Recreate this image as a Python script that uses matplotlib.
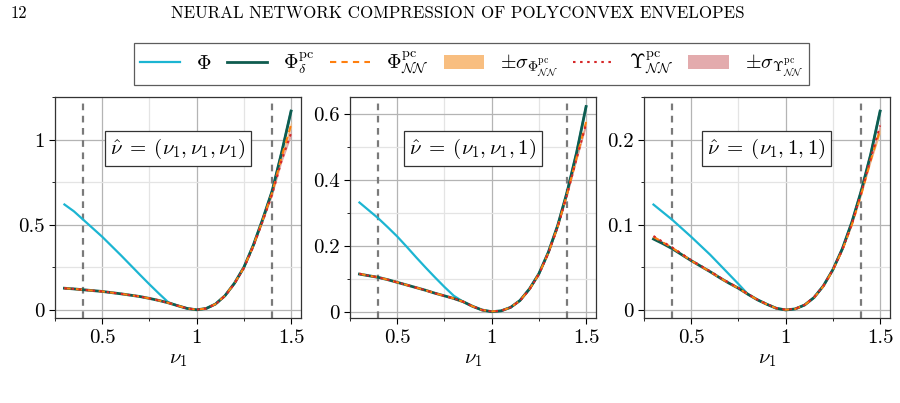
import numpy as np
import matplotlib
matplotlib.use("Agg")
import matplotlib.pyplot as plt
from matplotlib.ticker import MultipleLocator, FuncFormatter

plt.rcParams['mathtext.fontset'] = 'cm'
plt.rcParams['font.family'] = 'serif'
plt.rcParams['font.serif'] = ['cmr10', 'DejaVu Serif']
plt.rcParams['axes.formatter.use_mathtext'] = True

# --- data ---
nu1 = [0.30, 0.35, 0.40, 0.45, 0.50, 0.55, 0.60, 0.65, 0.70, 0.75, 0.80, 0.85, 0.90,
       0.95, 1.00, 1.05, 1.10, 1.15, 1.20, 1.25, 1.30, 1.35, 1.40, 1.45, 1.50]

# panel 1: nu_hat = (nu1, nu1, nu1)
phi_1 = [0.62, 0.58, 0.53, 0.48, 0.43, 0.375, 0.32, 0.263, 0.206, 0.15, 0.096, 0.044, 0.024,
         0.008, 0.0, 0.0075, 0.034, 0.083, 0.156, 0.25, 0.38, 0.534, 0.70, 0.926, 1.17]
env_1 = [0.127, 0.123, 0.118, 0.113, 0.108, 0.101, 0.094, 0.086, 0.078, 0.067, 0.055, 0.041, 0.024,
         0.008, 0.0, 0.0075, 0.034, 0.083, 0.156, 0.25, 0.38, 0.534, 0.70, 0.926, 1.17]
nn_1 = [0.127, 0.123, 0.118, 0.113, 0.108, 0.101, 0.094, 0.086, 0.078, 0.067, 0.055, 0.041, 0.024,
        0.008, 0.001, 0.0075, 0.034, 0.083, 0.155, 0.248, 0.377, 0.528, 0.69, 0.90, 1.09]
ups_1 = [0.127, 0.123, 0.118, 0.113, 0.108, 0.101, 0.094, 0.086, 0.078, 0.067, 0.055, 0.041, 0.024,
         0.008, 0.001, 0.0075, 0.033, 0.081, 0.153, 0.245, 0.372, 0.522, 0.68, 0.88, 1.04]

# panel 2: nu_hat = (nu1, nu1, 1)
phi_2 = [0.331, 0.307, 0.283, 0.256, 0.228, 0.197, 0.165, 0.134, 0.104, 0.075, 0.048, 0.030, 0.016,
         0.005, 0.0, 0.0025, 0.013, 0.034, 0.069, 0.115, 0.18, 0.262, 0.364, 0.483, 0.622]
env_2 = [0.114, 0.109, 0.104, 0.097, 0.089, 0.081, 0.073, 0.065, 0.056, 0.048, 0.040, 0.030, 0.016,
         0.005, 0.0, 0.0025, 0.013, 0.034, 0.069, 0.115, 0.18, 0.262, 0.364, 0.483, 0.622]
nn_2 = [0.115, 0.109, 0.104, 0.097, 0.089, 0.081, 0.073, 0.065, 0.056, 0.048, 0.040, 0.030, 0.016,
        0.005, 0.001, 0.0025, 0.013, 0.034, 0.068, 0.114, 0.178, 0.258, 0.358, 0.468, 0.575]
ups_2 = [0.115, 0.109, 0.104, 0.097, 0.089, 0.081, 0.073, 0.065, 0.056, 0.048, 0.040, 0.030, 0.016,
         0.005, 0.001, 0.0025, 0.013, 0.033, 0.067, 0.113, 0.177, 0.257, 0.356, 0.465, 0.57]

# panel 3: nu_hat = (nu1, 1, 1)
phi_3 = [0.124, 0.115, 0.106, 0.096, 0.086, 0.0755, 0.065, 0.0535, 0.042, 0.0305, 0.0185, 0.012, 0.0067,
         0.002, 0.0, 0.0012, 0.0058, 0.0146, 0.0285, 0.0475, 0.072, 0.103, 0.14, 0.183, 0.234]
env_3 = [0.0835, 0.078, 0.072, 0.065, 0.058, 0.0515, 0.045, 0.038, 0.0315, 0.0255, 0.0185, 0.012, 0.0067,
         0.002, 0.0, 0.0012, 0.0058, 0.0146, 0.0285, 0.0475, 0.072, 0.103, 0.14, 0.183, 0.234]
nn_3 = [0.086, 0.0795, 0.073, 0.0655, 0.058, 0.0515, 0.045, 0.038, 0.0315, 0.0255, 0.0185, 0.012, 0.0067,
        0.002, 0.0003, 0.0012, 0.0058, 0.0145, 0.028, 0.047, 0.0705, 0.10, 0.136, 0.176, 0.212]
ups_3 = [0.087, 0.080, 0.0735, 0.066, 0.0585, 0.052, 0.0455, 0.0385, 0.032, 0.026, 0.0188, 0.0122, 0.007,
         0.0022, 0.0004, 0.0013, 0.006, 0.015, 0.0285, 0.0475, 0.071, 0.101, 0.138, 0.178, 0.217]

# standard deviations (small, grow toward the ends)
sig_nn = [0.006, 0.004, 0.003, 0.002, 0.002, 0.002, 0.002, 0.002, 0.002, 0.002, 0.002, 0.002, 0.002,
          0.002, 0.002, 0.002, 0.002, 0.002, 0.003, 0.004, 0.005, 0.007, 0.010, 0.015, 0.022]
sig_ups = [0.005, 0.004, 0.003, 0.002, 0.002, 0.002, 0.002, 0.002, 0.002, 0.002, 0.002, 0.002, 0.002,
           0.002, 0.002, 0.002, 0.002, 0.002, 0.003, 0.004, 0.005, 0.007, 0.010, 0.014, 0.020]

panel_labels = [r'$\hat{\nu}\;=\;(\nu_1, \nu_1, \nu_1)$',
                r'$\hat{\nu}\;=\;(\nu_1, \nu_1, 1)$',
                r'$\hat{\nu}\;=\;(\nu_1, 1, 1)$']
panels = [(phi_1, env_1, nn_1, ups_1), (phi_2, env_2, nn_2, ups_2), (phi_3, env_3, nn_3, ups_3)]
ylims = [(-0.05, 1.255), (-0.02, 0.652), (-0.0098, 0.251)]
ymajor = [0.5, 0.2, 0.1]
bounds = [0.4, 1.4]

c_phi = '#1cb5d2'
c_env = '#0f5c4f'
c_nn = '#ff7f0e'
c_nn_band = '#f8be80'
c_ups = '#d62728'
c_ups_band = '#dc9699'

fig = plt.figure(figsize=(9, 4.03), dpi=100)
lefts = [0.0611, 0.3889, 0.7156]
x = np.array(nu1)
scale_fac = [1.0, 0.5, 0.2]
for i, (ph, en, nn, up) in enumerate(panels):
    ax = fig.add_axes([lefts[i], 0.2102, 0.2728, 0.55])
    nn = np.array(nn)
    up = np.array(up)
    sn = np.array(sig_nn) * scale_fac[i]
    su = np.array(sig_ups) * scale_fac[i]
    for b in bounds:
        ax.axvline(b, color='#7a7a7a', ls=(0, (3, 2.5)), lw=1.6, zorder=1)
    ax.plot(x, ph, color=c_phi, lw=1.6, label=r'$\Phi$', zorder=3)
    ax.plot(x, en, color=c_env, lw=2.0, label=r'$\Phi^{\mathrm{pc}}_{\delta}$', zorder=4)
    ax.fill_between(x, nn - sn, nn + sn, color=c_nn_band, lw=0,
                    label=r'$\pm\sigma_{\Phi^{\mathrm{pc}}_{\mathcal{NN}}}$', zorder=2)
    ax.plot(x, nn, color=c_nn, lw=1.5, ls=(0, (3, 2.5)),
            label=r'$\Phi^{\mathrm{pc}}_{\mathcal{NN}}$', zorder=5)
    ax.fill_between(x, up - su, up + su, color=c_ups_band, lw=0, alpha=0.8,
                    label=r'$\pm\sigma_{\Upsilon^{\mathrm{pc}}_{\mathcal{NN}}}$', zorder=2)
    ax.plot(x, up, color=c_ups, lw=1.5, ls=(0, (1.2, 2.2)),
            label=r'$\Upsilon^{\mathrm{pc}}_{\mathcal{NN}}$', zorder=6)

    ax.set_xlim(0.25, 1.55)
    ax.set_ylim(*ylims[i])
    ax.xaxis.set_major_locator(MultipleLocator(0.5))
    ax.xaxis.set_minor_locator(MultipleLocator(0.25))
    ax.yaxis.set_major_locator(MultipleLocator(ymajor[i]))
    ax.yaxis.set_minor_locator(MultipleLocator(ymajor[i] / 2))
    fmt = FuncFormatter(lambda v, p: f'{v:g}')
    ax.xaxis.set_major_formatter(fmt)
    ax.yaxis.set_major_formatter(fmt)
    ax.grid(True, which='major', color='#b4b4b4', lw=0.9)
    ax.grid(True, which='minor', color='#e4e4e4', lw=0.9)
    ax.set_axisbelow(True)
    ax.tick_params(which='major', length=4, width=0.8, labelsize=15, direction='out')
    ax.tick_params(which='minor', length=2.5, width=0.6, direction='out')
    for s in ax.spines.values():
        s.set_color('#333333')
        s.set_linewidth(0.9)
    ax.set_xlabel(r'$\nu_1$', fontsize=15, labelpad=3)
    ax.text(0.5, 0.765, panel_labels[i], transform=ax.transAxes, ha='center', va='center',
            fontsize=15, zorder=10,
            bbox=dict(boxstyle='square,pad=0.25', fc='white', ec='#333333', lw=0.9))
    if i == 0:
        handles, labels = ax.get_legend_handles_labels()

order = [r'$\Phi$', r'$\Phi^{\mathrm{pc}}_{\delta}$', r'$\Phi^{\mathrm{pc}}_{\mathcal{NN}}$',
         r'$\pm\sigma_{\Phi^{\mathrm{pc}}_{\mathcal{NN}}}$', r'$\Upsilon^{\mathrm{pc}}_{\mathcal{NN}}$',
         r'$\pm\sigma_{\Upsilon^{\mathrm{pc}}_{\mathcal{NN}}}$']
hmap = dict(zip(labels, handles))
leg = fig.legend([hmap[o] for o in order], order, loc='center', bbox_to_anchor=(0.524, 0.841),
                 ncol=6, fontsize=14.5, frameon=True, fancybox=False, edgecolor='#333333',
                 handlelength=2.0, handletextpad=0.8, columnspacing=0.75, borderpad=0.3,
                 borderaxespad=0.2)
leg.get_frame().set_linewidth(0.9)

fig.text(0.012, 0.968, '12', fontsize=12, ha='left', va='center')
fig.text(0.509, 0.968, 'NEURAL NETWORK COMPRESSION OF POLYCONVEX ENVELOPES',
         fontsize=12.2, ha='center', va='center')

fig.savefig('out.png', dpi=100)
